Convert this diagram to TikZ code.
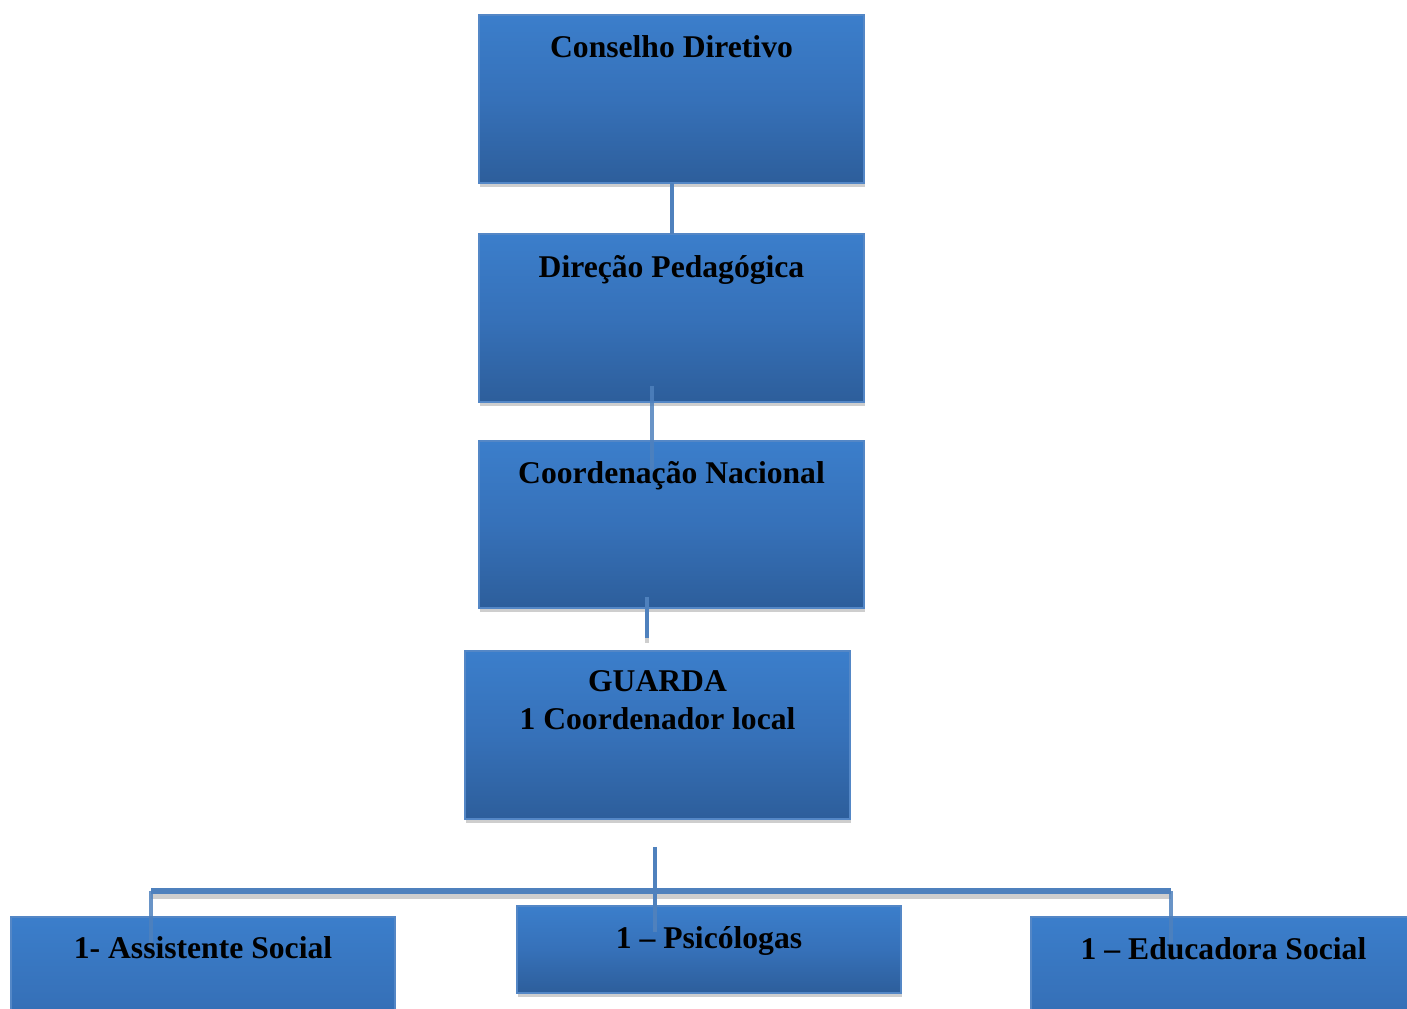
\documentclass[tikz,border=0pt]{standalone}
\usepackage{fontspec}
\setmainfont{Liberation Serif}
\definecolor{boxtop}{RGB}{59,126,203}
\definecolor{boxmid}{RGB}{54,113,185}
\definecolor{boxbot}{RGB}{45,94,155}
\definecolor{boxedge}{RGB}{84,135,198}
\definecolor{linkblue}{RGB}{79,129,189}
\definecolor{shadowgray}{RGB}{206,206,206}
\tikzset{
  orgbox/.style={draw=boxedge, line width=0.5pt, top color=boxtop, bottom color=boxbot, middle color=boxmid, rectangle, inner sep=0pt, outer sep=0pt},
  orgtext/.style={anchor=base, inner sep=0pt, font=\fontsize{9}{10.8}\selectfont\bfseries, align=center},
  link/.style={draw=linkblue, line width=1.4pt},
  linkshadow/.style={draw=shadowgray, line width=1.4pt},
}
\newcommand{\orgboxat}[5]{% name, x1, y1, x2, y2
  \fill[shadowgray] (#2+0.01,#3-0.04) rectangle (#4+0.01,#5-0.04);
  \path[orgbox] (#2,#3) rectangle (#4,#5);
  \node[minimum width={(#4-#2)*1cm}, minimum height={(#5-#3)*1cm}, inner sep=0pt, outer sep=0pt] (#1) at ({(#2+#4)/2},{(#3+#5)/2}) {};
}
\begin{document}
\begin{tikzpicture}
\useasboundingbox (0,0) rectangle (14.07,10.08);
\clip (0,0) rectangle (14.07,10.08);
% boxes
\orgboxat{b1}{4.79}{8.25}{8.64}{9.93}
\orgboxat{b2}{4.79}{6.06}{8.64}{7.74}
\orgboxat{b3}{4.79}{4.00}{8.64}{5.67}
\orgboxat{b4}{4.65}{1.89}{8.50}{3.57}
\orgboxat{b5}{0.11}{-0.77}{3.95}{0.91}
\orgboxat{b6}{5.17}{0.15}{9.01}{1.02}
\orgboxat{b7}{10.31}{-0.77}{14.15}{0.91}
% connector coordinates
\coordinate (c23a) at (6.52,6.22);
\coordinate (c23b) at (6.52,5.38);
\coordinate (c34a) at (6.47,4.11);
\coordinate (c34b) at (6.47,3.70);
\coordinate (c4a) at (6.55,1.61);
\coordinate (c4b) at (6.55,0.76);
\coordinate (hl) at (1.51,1.17);
\coordinate (hr) at (11.71,1.17);
\coordinate (c5b) at (1.51,0.60);
\coordinate (c7b) at (11.71,0.65);
% connector shadows
\draw[linkshadow] ([yshift=-0.05cm]c34a) -- ([yshift=-0.05cm]c34b);
\draw[shadowgray, line width=1.5pt] ([yshift=-0.05cm]hl) -- ([yshift=-0.05cm]hr);
% connectors
\draw[link] (b1.south -| 6.72,0) -- (b2.north -| 6.72,0);
\draw[link, draw opacity=0.85] (c23a) -- (c23b);
\draw[link] (c34a) -- (c34b);
\draw[link] (c4a) -- (c4b);
\draw[link, line width=1.7pt] (hl) -- (hr);
\draw[link, draw opacity=0.85] (hl) -- (c5b);
\draw[link, draw opacity=0.85] (hr) -- (c7b);
% texts
\node[orgtext] (t1) at (6.715,9.50) {Conselho Diretivo};
\node[orgtext] (t2) at (6.715,7.30) {Direção Pedagógica};
\node[orgtext] (t3) at (6.715,5.24) {Coordenação Nacional};
\node[orgtext] (t4a) at (6.575,3.16) {GUARDA};
\node[orgtext] (t4b) at (6.575,2.78) {1 Coordenador local};
\node[orgtext] (t5) at (2.03,0.50) {1- Assistente Social};
\node[orgtext] (t6) at (7.09,0.60) {1 – Psicólogas};
\node[orgtext] (t7) at (12.235,0.49) {1 – Educadora Social};
\end{tikzpicture}
\end{document}
